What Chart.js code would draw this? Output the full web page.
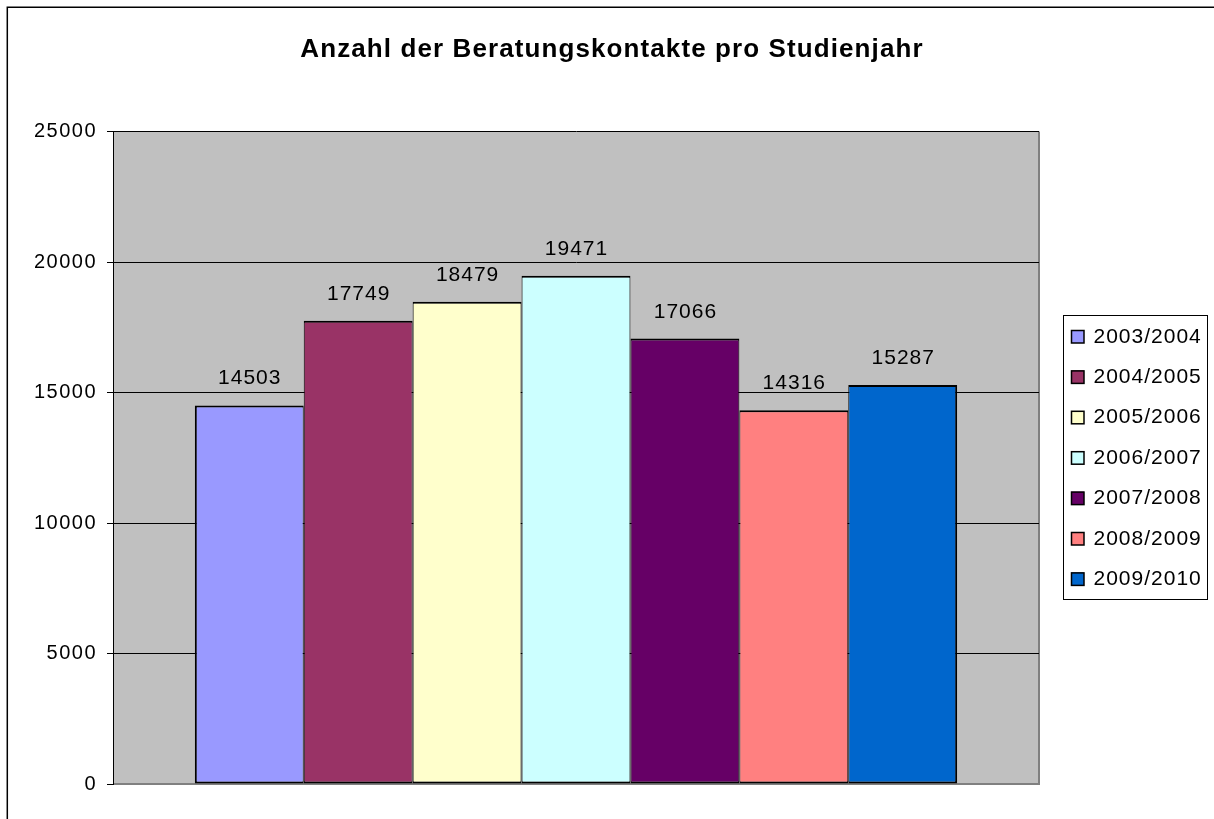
<!DOCTYPE html>
<html><head><meta charset="utf-8">
<script src="https://cdn.jsdelivr.net/npm/chart.js@4.4.1/dist/chart.umd.min.js"></script>
<style>html,body{margin:0;padding:0;background:#fff;}canvas{display:block;}</style>
</head><body>
<canvas id="c" width="1214" height="819"></canvas>
<script>
const chartTitle = 'Anzahl der Beratungskontakte pro Studienjahr';
const categories = ['2003/2004','2004/2005','2005/2006','2006/2007','2007/2008','2008/2009','2009/2010'];
const values = [14503, 17749, 18479, 19471, 17066, 14316, 15287];
const barColors = ['#9999FF','#993366','#FFFFCC','#CCFFFF','#660066','#FF8080','#0066CC'];
const yTickValues = [0, 5000, 10000, 15000, 20000, 25000];

const FONT = "'Liberation Sans', Arial, sans-serif";

const framePlugin = {
  id: 'frame',
  beforeDraw(chart) {
    const {ctx, chartArea: a} = chart;
    ctx.save();
    ctx.fillStyle = '#C0C0C0';
    ctx.fillRect(a.left, a.top, a.right - a.left, a.bottom - a.top);
    ctx.strokeStyle = '#808080';
    ctx.lineWidth = 2;
    ctx.beginPath();
    ctx.moveTo(a.left, a.bottom); ctx.lineTo(a.right, a.bottom); ctx.lineTo(a.right, a.top);
    ctx.stroke();
    ctx.strokeStyle = '#000';
    ctx.lineWidth = 1.5;
    ctx.beginPath();
    ctx.moveTo(7.3, chart.height); ctx.lineTo(7.3, 7.3); ctx.lineTo(chart.width, 7.3);
    ctx.stroke();
    ctx.restore();
    ctx.letterSpacing = '1.5px';
  }
};

const labelPlugin = {
  id: 'valueLabels',
  afterDatasetsDraw(chart) {
    const ctx = chart.ctx;
    ctx.save();
    ctx.letterSpacing = '1px';
    ctx.font = `21px ${FONT}`;
    ctx.fillStyle = '#000';
    ctx.textAlign = 'center';
    ctx.textBaseline = 'alphabetic';
    chart.data.datasets.forEach((ds, i) => {
      const el = chart.getDatasetMeta(i).data[0];
      ctx.fillText(String(ds.data[0]), el.x + 0.5, el.y - 21);
    });
    ctx.restore();
  }
};

const titleLegendPlugin = {
  id: 'titleLegend',
  afterDraw(chart) {
    const {ctx, chartArea: a} = chart;
    ctx.save();
    ctx.fillStyle = '#000';
    ctx.letterSpacing = '1.1px';
    ctx.font = `bold 26px ${FONT}`;
    ctx.textAlign = 'center';
    ctx.textBaseline = 'alphabetic';
    ctx.fillText(chartTitle, 612, 57);

    // legend
    const lx = a.right + 24, ly = 315, lw = 144, lh = 284;
    ctx.strokeStyle = '#000';
    ctx.lineWidth = 1;
    ctx.strokeRect(lx + 0.5, ly + 0.5, lw, lh);
    ctx.letterSpacing = '1px';
    ctx.font = `21px ${FONT}`;
    ctx.textAlign = 'left';
    chart.data.datasets.forEach((ds, i) => {
      const base = ly + 27.5 + 40.4 * i;
      ctx.fillStyle = ds.backgroundColor;
      ctx.fillRect(lx + 8, base - 12.5, 13, 13);
      ctx.strokeStyle = '#000';
      ctx.lineWidth = 1.5;
      ctx.strokeRect(lx + 8.5, base - 12, 12.5, 12.5);
      ctx.fillStyle = '#000';
      ctx.fillText(ds.label, lx + 30.5, base);
    });
    ctx.restore();
  }
};

const n = categories.length;
const datasets = categories.map((cat, i) => ({
  label: cat,
  data: [values[i]],
  backgroundColor: barColors[i],
  borderColor: '#000',
  borderWidth: {top: 2, bottom: 2, left: i === 0 ? 2 : 1, right: i === n - 1 ? 2 : 1},
  borderSkipped: false,
  categoryPercentage: 0.8233,
  barPercentage: 1.0
}));

new Chart(document.getElementById('c'), {
  type: 'bar',
  data: { labels: [''], datasets },
  options: {
    responsive: false,
    animation: false,
    layout: { padding: { top: 131.5, right: 175, bottom: 35, left: 0 } },
    plugins: {
      legend: { display: false },
      title: { display: false },
      tooltip: { enabled: false }
    },
    scales: {
      x: { display: false, offset: true },
      y: {
        min: 0, max: 25000,
        afterBuildTicks(scale) { scale.ticks = yTickValues.map(v => ({value: v})); },
        afterFit(scale) { scale.width = 113; },
        ticks: { color: '#000', font: { family: FONT, size: 20 }, padding: 10, callback: v => String(v) },
        grid: {
          color: c => (c.tick && c.tick.value === 0) ? 'rgba(0,0,0,0)' : '#000',
          tickColor: '#000', tickLength: 6, lineWidth: 1
        },
        border: { display: true, color: '#000', width: 1 }
      }
    }
  },
  plugins: [framePlugin, labelPlugin, titleLegendPlugin]
});
</script>
</body></html>
